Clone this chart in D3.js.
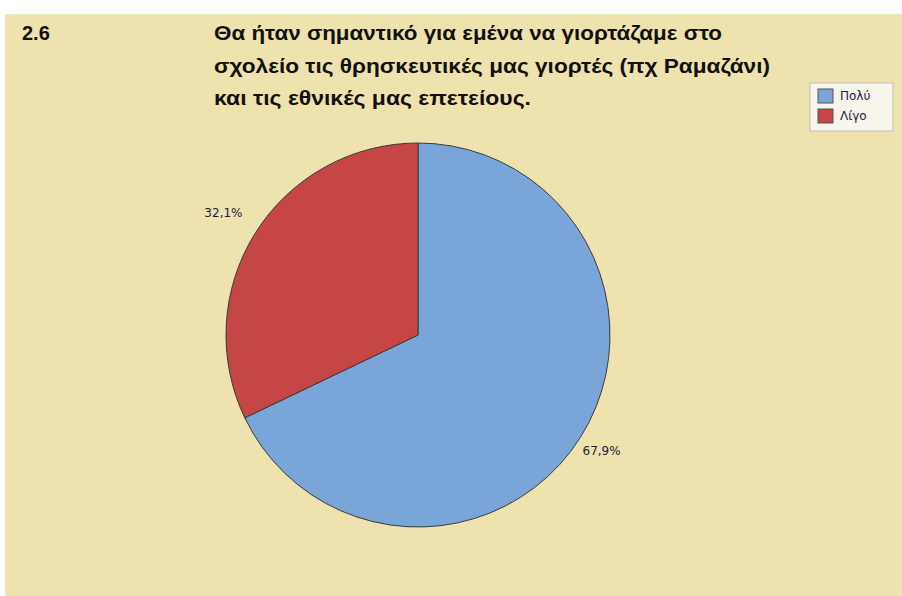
<!DOCTYPE html>
<html>
<head>
<meta charset="utf-8">
<script src="https://cdn.jsdelivr.net/npm/d3@7"></script>
<style>
  html, body { margin: 0; padding: 0; background: #ffffff; }
  svg { display: block; }
</style>
</head>
<body>
<svg id="chart" width="902" height="596"></svg>
<script>
// Survey item 2.6 — share of answers
const categories = ["Πολύ", "Λίγο"];
const values = [67.9, 32.1];
const valueLabels = ["67,9%", "32,1%"];
const colors = ["#7AA5D8", "#C64545"];
const questionNumber = "2.6";
const titleLines = [
  "Θα ήταν σημαντικό για εμένα να γιορτάζαμε στο",
  "σχολείο τις θρησκευτικές μας γιορτές (πχ Ραμαζάνι)",
  "και τις εθνικές μας επετείους."
];

const svg = d3.select("#chart");

// panel background
svg.append("rect")
  .attr("x", 5).attr("y", 14)
  .attr("width", 897).attr("height", 582)
  .attr("fill", "#EEE2AE");

// heading
const titleFont = "'Liberation Sans Narrow', 'Arial Narrow', 'Liberation Sans', sans-serif";
svg.append("text")
  .attr("x", 22).attr("y", 40)
  .attr("font-family", titleFont)
  .attr("font-weight", "bold")
  .attr("font-size", 20)
  .attr("fill", "#111")
  .text(questionNumber);

const titleWidths = [508, 556, 317];
svg.selectAll("text.title")
  .data(titleLines)
  .join("text")
  .attr("class", "title")
  .attr("x", 214)
  .attr("y", (d, i) => 40 + i * 32.5)
  .attr("font-family", titleFont)
  .attr("font-weight", "bold")
  .attr("font-size", 20)
  .attr("fill", "#111")
  .attr("textLength", (d, i) => titleWidths[i])
  .attr("lengthAdjust", "spacingAndGlyphs")
  .text(d => d);

// pie
const cx = 418, cy = 335, r = 192;
const pie = d3.pie().sort(null).value(d => d);
const arcs = pie(values);
const arc = d3.arc().innerRadius(0).outerRadius(r);

const g = svg.append("g").attr("transform", `translate(${cx},${cy})`);
g.selectAll("path")
  .data(arcs)
  .join("path")
  .attr("d", arc)
  .attr("fill", (d, i) => colors[i])
  .attr("stroke", "#3a3a3a")
  .attr("stroke-width", 1);

// value labels just outside the rim (left-hand label sits a little further out)
const labelGap = d => (d.startAngle + d.endAngle) / 2 > Math.PI ? 38 : 25;
g.selectAll("text.val")
  .data(arcs)
  .join("text")
  .attr("class", "val")
  .attr("transform", d => {
    const rr = r + labelGap(d);
    const [x, y] = d3.arc().innerRadius(rr).outerRadius(rr).centroid(d);
    return `translate(${x},${y})`;
  })
  .attr("text-anchor", "middle")
  .attr("dy", "0.35em")
  .attr("font-family", "'DejaVu Sans', sans-serif")
  .attr("font-size", 12)
  .attr("fill", "#1c1c3c")
  .text((d, i) => valueLabels[i]);

// legend
const lg = svg.append("g").attr("transform", "translate(810,83)");
lg.append("rect")
  .attr("width", 83).attr("height", 48)
  .attr("fill", "#F7F5EC")
  .attr("stroke", "#BDBDB5")
  .attr("stroke-width", 1);
const items = lg.selectAll("g.item")
  .data(categories)
  .join("g")
  .attr("class", "item")
  .attr("transform", (d, i) => `translate(8,${6 + i * 20})`);
items.append("rect")
  .attr("width", 15).attr("height", 14)
  .attr("fill", (d, i) => colors[i])
  .attr("stroke", "#555")
  .attr("stroke-width", 1);
items.append("text")
  .attr("x", 22).attr("y", 7)
  .attr("dy", "0.35em")
  .attr("font-family", "'DejaVu Sans', sans-serif")
  .attr("font-size", 12)
  .attr("fill", "#1c1c3c")
  .text(d => d);
</script>
</body>
</html>
